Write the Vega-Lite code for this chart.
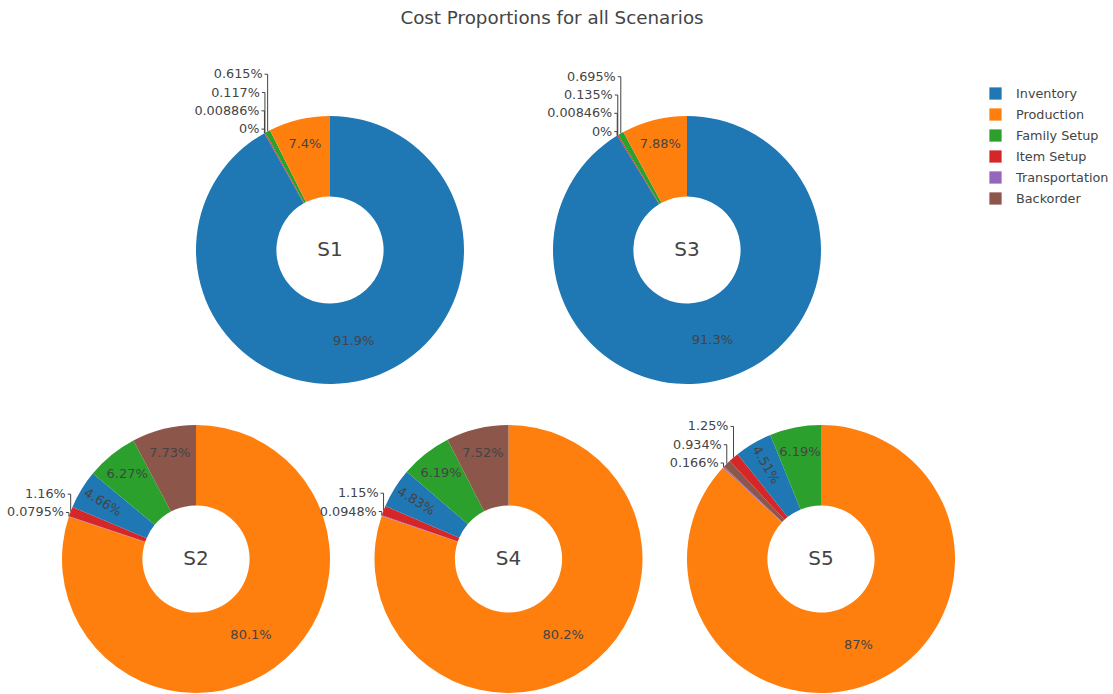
{
  "$schema": "https://vega.github.io/schema/vega-lite/v6.json",
  "background": "white",
  "padding": {"left": 6, "top": 8, "right": 5, "bottom": 0},
  "title": {"text": "Cost Proportions for all Scenarios", "font": "DejaVu Sans", "fontSize": 18.3, "fontWeight": "normal", "color": "#444", "anchor": "middle", "offset": 40, "dx": -6},
  "config": {"view": {"stroke": null}},
  "data": {"values": [
    {"scenario": "S1", "category": "Inventory", "value": 91.9},
    {"scenario": "S1", "category": "Backorder", "value": 0},
    {"scenario": "S1", "category": "Transportation", "value": 0.00886},
    {"scenario": "S1", "category": "Item Setup", "value": 0.117},
    {"scenario": "S1", "category": "Family Setup", "value": 0.615},
    {"scenario": "S1", "category": "Production", "value": 7.4},
    {"scenario": "S3", "category": "Inventory", "value": 91.3},
    {"scenario": "S3", "category": "Backorder", "value": 0},
    {"scenario": "S3", "category": "Transportation", "value": 0.00846},
    {"scenario": "S3", "category": "Item Setup", "value": 0.135},
    {"scenario": "S3", "category": "Family Setup", "value": 0.695},
    {"scenario": "S3", "category": "Production", "value": 7.88},
    {"scenario": "S2", "category": "Production", "value": 80.1},
    {"scenario": "S2", "category": "Transportation", "value": 0.0795},
    {"scenario": "S2", "category": "Item Setup", "value": 1.16},
    {"scenario": "S2", "category": "Inventory", "value": 4.66},
    {"scenario": "S2", "category": "Family Setup", "value": 6.27},
    {"scenario": "S2", "category": "Backorder", "value": 7.73},
    {"scenario": "S4", "category": "Production", "value": 80.2},
    {"scenario": "S4", "category": "Transportation", "value": 0.0948},
    {"scenario": "S4", "category": "Item Setup", "value": 1.15},
    {"scenario": "S4", "category": "Inventory", "value": 4.83},
    {"scenario": "S4", "category": "Family Setup", "value": 6.19},
    {"scenario": "S4", "category": "Backorder", "value": 7.52},
    {"scenario": "S5", "category": "Production", "value": 87},
    {"scenario": "S5", "category": "Transportation", "value": 0.166},
    {"scenario": "S5", "category": "Backorder", "value": 0.934},
    {"scenario": "S5", "category": "Item Setup", "value": 1.25},
    {"scenario": "S5", "category": "Inventory", "value": 4.51},
    {"scenario": "S5", "category": "Family Setup", "value": 6.19}
  ]},
  "spacing": 36,
  "vconcat": [
    {
      "bounds": "flush",
      "spacing": 89,
      "hconcat": [
        {"width": 45, "height": 268, "mark": {"type": "point", "opacity": 0}, "encoding": {}},
        {
          "width": 268, "height": 268,
          "transform": [
            {"filter": "datum.scenario === 'S1'"},
            {"window": [{"op": "row_number", "as": "idx"}]},
            {"window": [{"op": "sum", "field": "value", "as": "cum"}], "sort": [{"field": "idx", "order": "ascending"}], "frame": [null, 0]},
            {"joinaggregate": [{"op": "sum", "field": "value", "as": "total"}]},
            {"calculate": "datum.cum - datum.value / 2", "as": "midv"},
            {"calculate": "2 * PI * datum.midv / datum.total", "as": "ang"},
            {"calculate": "format(datum.value, '.3~r') + '%'", "as": "label"}
          ],
          "layer": [
            {"mark": {"type": "arc", "innerRadius": 53.6, "outerRadius": 134},
             "encoding": {
               "theta": {"field": "value", "type": "quantitative", "stack": true},
               "order": {"field": "idx", "type": "quantitative"},
               "color": {"field": "category", "type": "nominal",
                 "scale": {"domain": ["Inventory", "Production", "Family Setup", "Item Setup", "Transportation", "Backorder"], "range": ["#1f77b4", "#ff7f0e", "#2ca02c", "#d62728", "#9467bd", "#8c564b"]},
                 "legend": {"title": null, "orient": "none", "legendX": 927, "legendY": -29, "symbolType": "square", "symbolSize": 150, "symbolStrokeWidth": 0, "labelFont": "DejaVu Sans", "labelFontSize": 12.8, "labelColor": "#444", "rowPadding": 7, "padding": 0, "labelOffset": 14}}
             }},
            {"transform": [{"filter": "datum.value >= 50"}],
             "mark": {"type": "text", "radius": 94, "font": "DejaVu Sans", "fontSize": 13, "color": "#444"},
             "encoding": {"theta": {"field": "midv", "type": "quantitative"}, "text": {"field": "label"}}},
            {"transform": [{"filter": "datum.value >= 2 && datum.value < 50"}, {"calculate": "datum.value < 5 ? ((datum.ang * 180 / PI - 90) > 90 ? (datum.ang * 180 / PI - 270) : (datum.ang * 180 / PI - 90)) : 0", "as": "rot"}],
             "mark": {"type": "text", "radius": 109, "font": "DejaVu Sans", "fontSize": 13, "color": "#444"},
             "encoding": {"theta": {"field": "midv", "type": "quantitative"}, "text": {"field": "label"}, "angle": {"field": "rot", "type": "quantitative", "scale": null}}},
            {"transform": [{"filter": "datum.idx === 1"}],
             "mark": {"type": "text", "font": "DejaVu Sans", "fontSize": 20, "color": "#444"},
             "encoding": {"text": {"field": "scenario"}}},
            {"transform": [
               {"filter": "datum.value < 2"},
               {"calculate": "134 * sin(datum.ang)", "as": "ex"},
               {"calculate": "134 * cos(datum.ang)", "as": "ey"},
               {"window": [{"op": "row_number", "as": "k"}], "sort": [{"field": "ey", "order": "ascending"}]},
               {"joinaggregate": [{"op": "min", "field": "ey", "as": "ey0"}]},
               {"calculate": "datum.ey0 + 4 + 18.3 * (datum.k - 1)", "as": "ly"},
               {"calculate": "datum.ex - 3", "as": "tx"},
               {"calculate": "datum.ex - 5", "as": "lx"}
             ],
             "layer": [
               {"mark": {"type": "rule", "color": "#444", "strokeWidth": 1},
                "encoding": {"x": {"field": "ex", "type": "quantitative", "scale": {"domain": [-134, 134], "nice": false, "zero": false}, "axis": null}, "y": {"field": "ey", "type": "quantitative", "scale": {"domain": [-134, 134], "nice": false, "zero": false}, "axis": null}, "y2": {"field": "ly"}}},
               {"mark": {"type": "rule", "color": "#444", "strokeWidth": 1},
                "encoding": {"x": {"field": "tx", "type": "quantitative", "scale": {"domain": [-134, 134], "nice": false, "zero": false}, "axis": null}, "x2": {"field": "ex"}, "y": {"field": "ly", "type": "quantitative", "scale": {"domain": [-134, 134], "nice": false, "zero": false}, "axis": null}}},
               {"mark": {"type": "text", "align": "right", "baseline": "middle", "font": "DejaVu Sans", "fontSize": 12.8, "color": "#444"},
                "encoding": {"x": {"field": "lx", "type": "quantitative", "scale": {"domain": [-134, 134], "nice": false, "zero": false}, "axis": null}, "y": {"field": "ly", "type": "quantitative", "scale": {"domain": [-134, 134], "nice": false, "zero": false}, "axis": null}, "text": {"field": "label"}}}
             ]}
          ]
        },
        {
          "width": 268, "height": 268,
          "transform": [
            {"filter": "datum.scenario === 'S3'"},
            {"window": [{"op": "row_number", "as": "idx"}]},
            {"window": [{"op": "sum", "field": "value", "as": "cum"}], "sort": [{"field": "idx", "order": "ascending"}], "frame": [null, 0]},
            {"joinaggregate": [{"op": "sum", "field": "value", "as": "total"}]},
            {"calculate": "datum.cum - datum.value / 2", "as": "midv"},
            {"calculate": "2 * PI * datum.midv / datum.total", "as": "ang"},
            {"calculate": "format(datum.value, '.3~r') + '%'", "as": "label"}
          ],
          "layer": [
            {"mark": {"type": "arc", "innerRadius": 53.6, "outerRadius": 134},
             "encoding": {
               "theta": {"field": "value", "type": "quantitative", "stack": true},
               "order": {"field": "idx", "type": "quantitative"},
               "color": {"field": "category", "type": "nominal",
                 "scale": {"domain": ["Inventory", "Production", "Family Setup", "Item Setup", "Transportation", "Backorder"], "range": ["#1f77b4", "#ff7f0e", "#2ca02c", "#d62728", "#9467bd", "#8c564b"]},
                 "legend": {"title": null, "orient": "none", "legendX": 927, "legendY": -29, "symbolType": "square", "symbolSize": 150, "symbolStrokeWidth": 0, "labelFont": "DejaVu Sans", "labelFontSize": 12.8, "labelColor": "#444", "rowPadding": 7, "padding": 0, "labelOffset": 14}}
             }},
            {"transform": [{"filter": "datum.value >= 50"}],
             "mark": {"type": "text", "radius": 94, "font": "DejaVu Sans", "fontSize": 13, "color": "#444"},
             "encoding": {"theta": {"field": "midv", "type": "quantitative"}, "text": {"field": "label"}}},
            {"transform": [{"filter": "datum.value >= 2 && datum.value < 50"}, {"calculate": "datum.value < 5 ? ((datum.ang * 180 / PI - 90) > 90 ? (datum.ang * 180 / PI - 270) : (datum.ang * 180 / PI - 90)) : 0", "as": "rot"}],
             "mark": {"type": "text", "radius": 109, "font": "DejaVu Sans", "fontSize": 13, "color": "#444"},
             "encoding": {"theta": {"field": "midv", "type": "quantitative"}, "text": {"field": "label"}, "angle": {"field": "rot", "type": "quantitative", "scale": null}}},
            {"transform": [{"filter": "datum.idx === 1"}],
             "mark": {"type": "text", "font": "DejaVu Sans", "fontSize": 20, "color": "#444"},
             "encoding": {"text": {"field": "scenario"}}},
            {"transform": [
               {"filter": "datum.value < 2"},
               {"calculate": "134 * sin(datum.ang)", "as": "ex"},
               {"calculate": "134 * cos(datum.ang)", "as": "ey"},
               {"window": [{"op": "row_number", "as": "k"}], "sort": [{"field": "ey", "order": "ascending"}]},
               {"joinaggregate": [{"op": "min", "field": "ey", "as": "ey0"}]},
               {"calculate": "datum.ey0 + 4 + 18.3 * (datum.k - 1)", "as": "ly"},
               {"calculate": "datum.ex - 3", "as": "tx"},
               {"calculate": "datum.ex - 5", "as": "lx"}
             ],
             "layer": [
               {"mark": {"type": "rule", "color": "#444", "strokeWidth": 1},
                "encoding": {"x": {"field": "ex", "type": "quantitative", "scale": {"domain": [-134, 134], "nice": false, "zero": false}, "axis": null}, "y": {"field": "ey", "type": "quantitative", "scale": {"domain": [-134, 134], "nice": false, "zero": false}, "axis": null}, "y2": {"field": "ly"}}},
               {"mark": {"type": "rule", "color": "#444", "strokeWidth": 1},
                "encoding": {"x": {"field": "tx", "type": "quantitative", "scale": {"domain": [-134, 134], "nice": false, "zero": false}, "axis": null}, "x2": {"field": "ex"}, "y": {"field": "ly", "type": "quantitative", "scale": {"domain": [-134, 134], "nice": false, "zero": false}, "axis": null}}},
               {"mark": {"type": "text", "align": "right", "baseline": "middle", "font": "DejaVu Sans", "fontSize": 12.8, "color": "#444"},
                "encoding": {"x": {"field": "lx", "type": "quantitative", "scale": {"domain": [-134, 134], "nice": false, "zero": false}, "axis": null}, "y": {"field": "ly", "type": "quantitative", "scale": {"domain": [-134, 134], "nice": false, "zero": false}, "axis": null}, "text": {"field": "label"}}}
             ]}
          ]
        }
      ]
    },
    {
      "bounds": "flush",
      "spacing": 44.5,
      "hconcat": [
        {
          "width": 268, "height": 268,
          "transform": [
            {"filter": "datum.scenario === 'S2'"},
            {"window": [{"op": "row_number", "as": "idx"}]},
            {"window": [{"op": "sum", "field": "value", "as": "cum"}], "sort": [{"field": "idx", "order": "ascending"}], "frame": [null, 0]},
            {"joinaggregate": [{"op": "sum", "field": "value", "as": "total"}]},
            {"calculate": "datum.cum - datum.value / 2", "as": "midv"},
            {"calculate": "2 * PI * datum.midv / datum.total", "as": "ang"},
            {"calculate": "format(datum.value, '.3~r') + '%'", "as": "label"}
          ],
          "layer": [
            {"mark": {"type": "arc", "innerRadius": 53.6, "outerRadius": 134},
             "encoding": {
               "theta": {"field": "value", "type": "quantitative", "stack": true},
               "order": {"field": "idx", "type": "quantitative"},
               "color": {"field": "category", "type": "nominal",
                 "scale": {"domain": ["Inventory", "Production", "Family Setup", "Item Setup", "Transportation", "Backorder"], "range": ["#1f77b4", "#ff7f0e", "#2ca02c", "#d62728", "#9467bd", "#8c564b"]},
                 "legend": {"title": null, "orient": "none", "legendX": 927, "legendY": -29, "symbolType": "square", "symbolSize": 150, "symbolStrokeWidth": 0, "labelFont": "DejaVu Sans", "labelFontSize": 12.8, "labelColor": "#444", "rowPadding": 7, "padding": 0, "labelOffset": 14}}
             }},
            {"transform": [{"filter": "datum.value >= 50"}],
             "mark": {"type": "text", "radius": 94, "font": "DejaVu Sans", "fontSize": 13, "color": "#444"},
             "encoding": {"theta": {"field": "midv", "type": "quantitative"}, "text": {"field": "label"}}},
            {"transform": [{"filter": "datum.value >= 2 && datum.value < 50"}, {"calculate": "datum.value < 5 ? ((datum.ang * 180 / PI - 90) > 90 ? (datum.ang * 180 / PI - 270) : (datum.ang * 180 / PI - 90)) : 0", "as": "rot"}],
             "mark": {"type": "text", "radius": 109, "font": "DejaVu Sans", "fontSize": 13, "color": "#444"},
             "encoding": {"theta": {"field": "midv", "type": "quantitative"}, "text": {"field": "label"}, "angle": {"field": "rot", "type": "quantitative", "scale": null}}},
            {"transform": [{"filter": "datum.idx === 1"}],
             "mark": {"type": "text", "font": "DejaVu Sans", "fontSize": 20, "color": "#444"},
             "encoding": {"text": {"field": "scenario"}}},
            {"transform": [
               {"filter": "datum.value < 2"},
               {"calculate": "134 * sin(datum.ang)", "as": "ex"},
               {"calculate": "134 * cos(datum.ang)", "as": "ey"},
               {"window": [{"op": "row_number", "as": "k"}], "sort": [{"field": "ey", "order": "ascending"}]},
               {"joinaggregate": [{"op": "min", "field": "ey", "as": "ey0"}]},
               {"calculate": "datum.ey0 + 4 + 18.3 * (datum.k - 1)", "as": "ly"},
               {"calculate": "datum.ex - 3", "as": "tx"},
               {"calculate": "datum.ex - 5", "as": "lx"}
             ],
             "layer": [
               {"mark": {"type": "rule", "color": "#444", "strokeWidth": 1},
                "encoding": {"x": {"field": "ex", "type": "quantitative", "scale": {"domain": [-134, 134], "nice": false, "zero": false}, "axis": null}, "y": {"field": "ey", "type": "quantitative", "scale": {"domain": [-134, 134], "nice": false, "zero": false}, "axis": null}, "y2": {"field": "ly"}}},
               {"mark": {"type": "rule", "color": "#444", "strokeWidth": 1},
                "encoding": {"x": {"field": "tx", "type": "quantitative", "scale": {"domain": [-134, 134], "nice": false, "zero": false}, "axis": null}, "x2": {"field": "ex"}, "y": {"field": "ly", "type": "quantitative", "scale": {"domain": [-134, 134], "nice": false, "zero": false}, "axis": null}}},
               {"mark": {"type": "text", "align": "right", "baseline": "middle", "font": "DejaVu Sans", "fontSize": 12.8, "color": "#444"},
                "encoding": {"x": {"field": "lx", "type": "quantitative", "scale": {"domain": [-134, 134], "nice": false, "zero": false}, "axis": null}, "y": {"field": "ly", "type": "quantitative", "scale": {"domain": [-134, 134], "nice": false, "zero": false}, "axis": null}, "text": {"field": "label"}}}
             ]}
          ]
        },
        {
          "width": 268, "height": 268,
          "transform": [
            {"filter": "datum.scenario === 'S4'"},
            {"window": [{"op": "row_number", "as": "idx"}]},
            {"window": [{"op": "sum", "field": "value", "as": "cum"}], "sort": [{"field": "idx", "order": "ascending"}], "frame": [null, 0]},
            {"joinaggregate": [{"op": "sum", "field": "value", "as": "total"}]},
            {"calculate": "datum.cum - datum.value / 2", "as": "midv"},
            {"calculate": "2 * PI * datum.midv / datum.total", "as": "ang"},
            {"calculate": "format(datum.value, '.3~r') + '%'", "as": "label"}
          ],
          "layer": [
            {"mark": {"type": "arc", "innerRadius": 53.6, "outerRadius": 134},
             "encoding": {
               "theta": {"field": "value", "type": "quantitative", "stack": true},
               "order": {"field": "idx", "type": "quantitative"},
               "color": {"field": "category", "type": "nominal",
                 "scale": {"domain": ["Inventory", "Production", "Family Setup", "Item Setup", "Transportation", "Backorder"], "range": ["#1f77b4", "#ff7f0e", "#2ca02c", "#d62728", "#9467bd", "#8c564b"]},
                 "legend": {"title": null, "orient": "none", "legendX": 927, "legendY": -29, "symbolType": "square", "symbolSize": 150, "symbolStrokeWidth": 0, "labelFont": "DejaVu Sans", "labelFontSize": 12.8, "labelColor": "#444", "rowPadding": 7, "padding": 0, "labelOffset": 14}}
             }},
            {"transform": [{"filter": "datum.value >= 50"}],
             "mark": {"type": "text", "radius": 94, "font": "DejaVu Sans", "fontSize": 13, "color": "#444"},
             "encoding": {"theta": {"field": "midv", "type": "quantitative"}, "text": {"field": "label"}}},
            {"transform": [{"filter": "datum.value >= 2 && datum.value < 50"}, {"calculate": "datum.value < 5 ? ((datum.ang * 180 / PI - 90) > 90 ? (datum.ang * 180 / PI - 270) : (datum.ang * 180 / PI - 90)) : 0", "as": "rot"}],
             "mark": {"type": "text", "radius": 109, "font": "DejaVu Sans", "fontSize": 13, "color": "#444"},
             "encoding": {"theta": {"field": "midv", "type": "quantitative"}, "text": {"field": "label"}, "angle": {"field": "rot", "type": "quantitative", "scale": null}}},
            {"transform": [{"filter": "datum.idx === 1"}],
             "mark": {"type": "text", "font": "DejaVu Sans", "fontSize": 20, "color": "#444"},
             "encoding": {"text": {"field": "scenario"}}},
            {"transform": [
               {"filter": "datum.value < 2"},
               {"calculate": "134 * sin(datum.ang)", "as": "ex"},
               {"calculate": "134 * cos(datum.ang)", "as": "ey"},
               {"window": [{"op": "row_number", "as": "k"}], "sort": [{"field": "ey", "order": "ascending"}]},
               {"joinaggregate": [{"op": "min", "field": "ey", "as": "ey0"}]},
               {"calculate": "datum.ey0 + 4 + 18.3 * (datum.k - 1)", "as": "ly"},
               {"calculate": "datum.ex - 3", "as": "tx"},
               {"calculate": "datum.ex - 5", "as": "lx"}
             ],
             "layer": [
               {"mark": {"type": "rule", "color": "#444", "strokeWidth": 1},
                "encoding": {"x": {"field": "ex", "type": "quantitative", "scale": {"domain": [-134, 134], "nice": false, "zero": false}, "axis": null}, "y": {"field": "ey", "type": "quantitative", "scale": {"domain": [-134, 134], "nice": false, "zero": false}, "axis": null}, "y2": {"field": "ly"}}},
               {"mark": {"type": "rule", "color": "#444", "strokeWidth": 1},
                "encoding": {"x": {"field": "tx", "type": "quantitative", "scale": {"domain": [-134, 134], "nice": false, "zero": false}, "axis": null}, "x2": {"field": "ex"}, "y": {"field": "ly", "type": "quantitative", "scale": {"domain": [-134, 134], "nice": false, "zero": false}, "axis": null}}},
               {"mark": {"type": "text", "align": "right", "baseline": "middle", "font": "DejaVu Sans", "fontSize": 12.8, "color": "#444"},
                "encoding": {"x": {"field": "lx", "type": "quantitative", "scale": {"domain": [-134, 134], "nice": false, "zero": false}, "axis": null}, "y": {"field": "ly", "type": "quantitative", "scale": {"domain": [-134, 134], "nice": false, "zero": false}, "axis": null}, "text": {"field": "label"}}}
             ]}
          ]
        },
        {
          "width": 268, "height": 268,
          "transform": [
            {"filter": "datum.scenario === 'S5'"},
            {"window": [{"op": "row_number", "as": "idx"}]},
            {"window": [{"op": "sum", "field": "value", "as": "cum"}], "sort": [{"field": "idx", "order": "ascending"}], "frame": [null, 0]},
            {"joinaggregate": [{"op": "sum", "field": "value", "as": "total"}]},
            {"calculate": "datum.cum - datum.value / 2", "as": "midv"},
            {"calculate": "2 * PI * datum.midv / datum.total", "as": "ang"},
            {"calculate": "format(datum.value, '.3~r') + '%'", "as": "label"}
          ],
          "layer": [
            {"mark": {"type": "arc", "innerRadius": 53.6, "outerRadius": 134},
             "encoding": {
               "theta": {"field": "value", "type": "quantitative", "stack": true},
               "order": {"field": "idx", "type": "quantitative"},
               "color": {"field": "category", "type": "nominal",
                 "scale": {"domain": ["Inventory", "Production", "Family Setup", "Item Setup", "Transportation", "Backorder"], "range": ["#1f77b4", "#ff7f0e", "#2ca02c", "#d62728", "#9467bd", "#8c564b"]},
                 "legend": {"title": null, "orient": "none", "legendX": 927, "legendY": -29, "symbolType": "square", "symbolSize": 150, "symbolStrokeWidth": 0, "labelFont": "DejaVu Sans", "labelFontSize": 12.8, "labelColor": "#444", "rowPadding": 7, "padding": 0, "labelOffset": 14}}
             }},
            {"transform": [{"filter": "datum.value >= 50"}],
             "mark": {"type": "text", "radius": 94, "font": "DejaVu Sans", "fontSize": 13, "color": "#444"},
             "encoding": {"theta": {"field": "midv", "type": "quantitative"}, "text": {"field": "label"}}},
            {"transform": [{"filter": "datum.value >= 2 && datum.value < 50"}, {"calculate": "datum.value < 5 ? ((datum.ang * 180 / PI - 90) > 90 ? (datum.ang * 180 / PI - 270) : (datum.ang * 180 / PI - 90)) : 0", "as": "rot"}],
             "mark": {"type": "text", "radius": 109, "font": "DejaVu Sans", "fontSize": 13, "color": "#444"},
             "encoding": {"theta": {"field": "midv", "type": "quantitative"}, "text": {"field": "label"}, "angle": {"field": "rot", "type": "quantitative", "scale": null}}},
            {"transform": [{"filter": "datum.idx === 1"}],
             "mark": {"type": "text", "font": "DejaVu Sans", "fontSize": 20, "color": "#444"},
             "encoding": {"text": {"field": "scenario"}}},
            {"transform": [
               {"filter": "datum.value < 2"},
               {"calculate": "134 * sin(datum.ang)", "as": "ex"},
               {"calculate": "134 * cos(datum.ang)", "as": "ey"},
               {"window": [{"op": "row_number", "as": "k"}], "sort": [{"field": "ey", "order": "ascending"}]},
               {"joinaggregate": [{"op": "min", "field": "ey", "as": "ey0"}]},
               {"calculate": "datum.ey0 + 4 + 18.3 * (datum.k - 1)", "as": "ly"},
               {"calculate": "datum.ex - 3", "as": "tx"},
               {"calculate": "datum.ex - 5", "as": "lx"}
             ],
             "layer": [
               {"mark": {"type": "rule", "color": "#444", "strokeWidth": 1},
                "encoding": {"x": {"field": "ex", "type": "quantitative", "scale": {"domain": [-134, 134], "nice": false, "zero": false}, "axis": null}, "y": {"field": "ey", "type": "quantitative", "scale": {"domain": [-134, 134], "nice": false, "zero": false}, "axis": null}, "y2": {"field": "ly"}}},
               {"mark": {"type": "rule", "color": "#444", "strokeWidth": 1},
                "encoding": {"x": {"field": "tx", "type": "quantitative", "scale": {"domain": [-134, 134], "nice": false, "zero": false}, "axis": null}, "x2": {"field": "ex"}, "y": {"field": "ly", "type": "quantitative", "scale": {"domain": [-134, 134], "nice": false, "zero": false}, "axis": null}}},
               {"mark": {"type": "text", "align": "right", "baseline": "middle", "font": "DejaVu Sans", "fontSize": 12.8, "color": "#444"},
                "encoding": {"x": {"field": "lx", "type": "quantitative", "scale": {"domain": [-134, 134], "nice": false, "zero": false}, "axis": null}, "y": {"field": "ly", "type": "quantitative", "scale": {"domain": [-134, 134], "nice": false, "zero": false}, "axis": null}, "text": {"field": "label"}}}
             ]}
          ]
        }
      ]
    }
  ]
}
